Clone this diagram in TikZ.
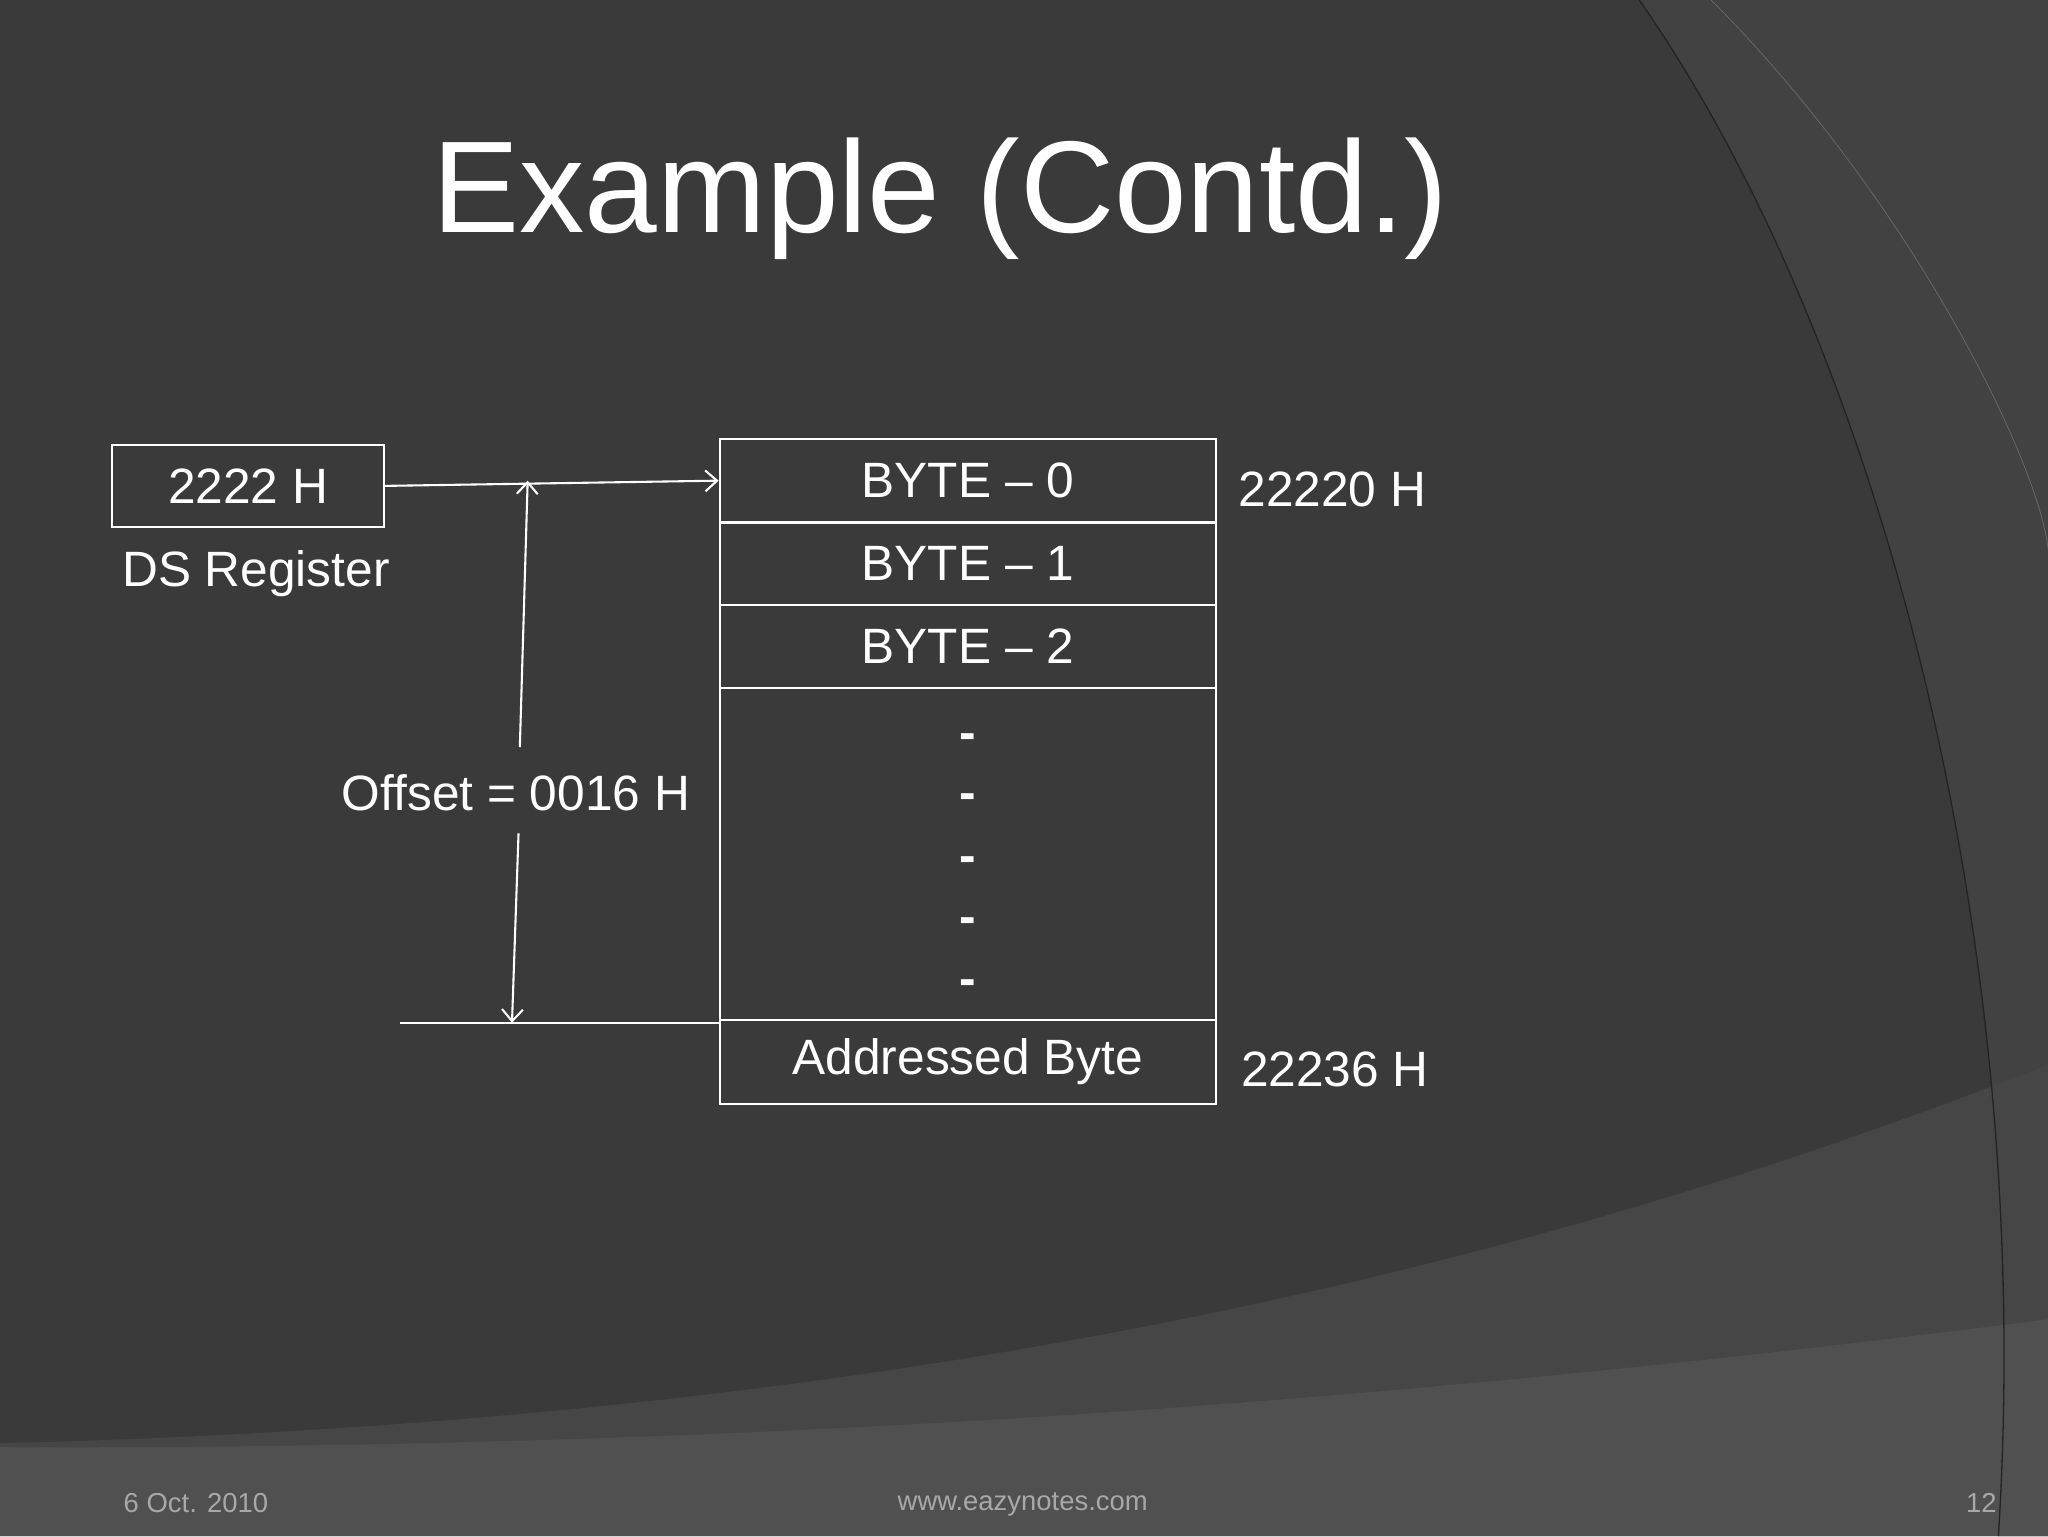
\documentclass[tikz,border=0pt]{standalone}
\usepackage{fontspec}
\setmainfont{Liberation Sans}
\usetikzlibrary{arrows.meta}
\definecolor{bg}{HTML}{3A3A3A}
\definecolor{bgb}{HTML}{424242}
\definecolor{bgm}{HTML}{464646}
\definecolor{bgc}{HTML}{505050}
\definecolor{foot}{HTML}{A8A8A8}
\begin{document}
\begin{tikzpicture}[x=1pt,y=-1pt,
  cell/.style={draw=white,line width=1.6pt,minimum width=380pt,inner sep=0pt,text=white,font=\fontsize{38}{40}\selectfont},
  lbl/.style={text=white,font=\fontsize{38}{40}\selectfont,inner sep=2pt},
  ln/.style={white,line width=1.6pt},
  ft/.style={text=foot,font=\fontsize{21}{24}\selectfont}]
\useasboundingbox (0,0) rectangle (1568,1176);
\fill[bg] (0,0) rectangle (1568,1176);
\fill[bgb] (1255,0) .. controls (1430,250) and (1560,700) .. (1530,1176) -- (1568,1176) -- (1568,0) -- cycle;
\fill[bgm] (0,1105) .. controls (600,1090) and (1100,1000) .. (1568,815) -- (1568,1176) -- (0,1176) -- cycle;
\fill[bgc] (0,1108) .. controls (600,1110) and (1100,1070) .. (1568,1010) -- (1568,1176) -- (0,1176) -- cycle;
\draw[bg!60!black,line width=1pt] (1255,0) .. controls (1430,250) and (1560,700) .. (1530,1176);
\draw[bgb!80!white,line width=0.6pt] (1310,0) .. controls (1460,150) and (1560,350) .. (1568,420);
\node[text=white,font=\fontsize{100}{110}\selectfont] (title) at (720,152) {Example (Contd.)};
\node[draw=white,line width=1.6pt,minimum width=208pt,minimum height=63pt,inner sep=0pt,text=white,font=\fontsize{38}{40}\selectfont] (ds) at (190,372) {2222 H};
\node[lbl] (dsl) at (196,439) {DS Register};
\node[cell,minimum height=64pt] (b0) at (741,368) {BYTE -- 0};
\node[cell,minimum height=63pt] (b1) at (741,431.5) {BYTE -- 1};
\node[cell,minimum height=64pt] (b2) at (741,495) {BYTE -- 2};
\node[cell,minimum height=254pt] (gap) at (741,654) {};
\node[cell,minimum height=64pt] (ab) at (741,813) {Addressed Byte};
\foreach \y/\n in {562/d1,608/d2,656/d3,703/d4,750/d5}
  \node[lbl,font=\bfseries\fontsize{38}{40}\selectfont] (\n) at (741,\y+6) {-};
\node[lbl] (a0) at (1020,375) {22220 H};
\node[lbl] (a1) at (1022,819) {22236 H};
\node[lbl] (off) at (395,607) {Offset = 0016 H};
\coordinate (top) at (404,368);
\coordinate (t2) at (398,572);
\coordinate (b2c) at (397,638);
\coordinate (bot) at (392,783);
\coordinate (lstart) at (306,783);
\draw[ln,-{Straight Barb[length=9pt,width=16pt]}] (ds.east) -- (b0.west);
\draw[ln] (lstart) -- (lstart -| ab.west);
\draw[ln,{Straight Barb[length=9pt,width=16pt]}-] (top) -- (t2);
\draw[ln,-{Straight Barb[length=9pt,width=16pt]}] (b2c) -- (bot);
\node[ft] (f1) at (150,1151) {6 Oct. 2010};
\node[ft] (f2) at (783,1152) {www.eazynotes.com};
\node[ft] (f3) at (1517,1151) {12};
\end{tikzpicture}
\end{document}
